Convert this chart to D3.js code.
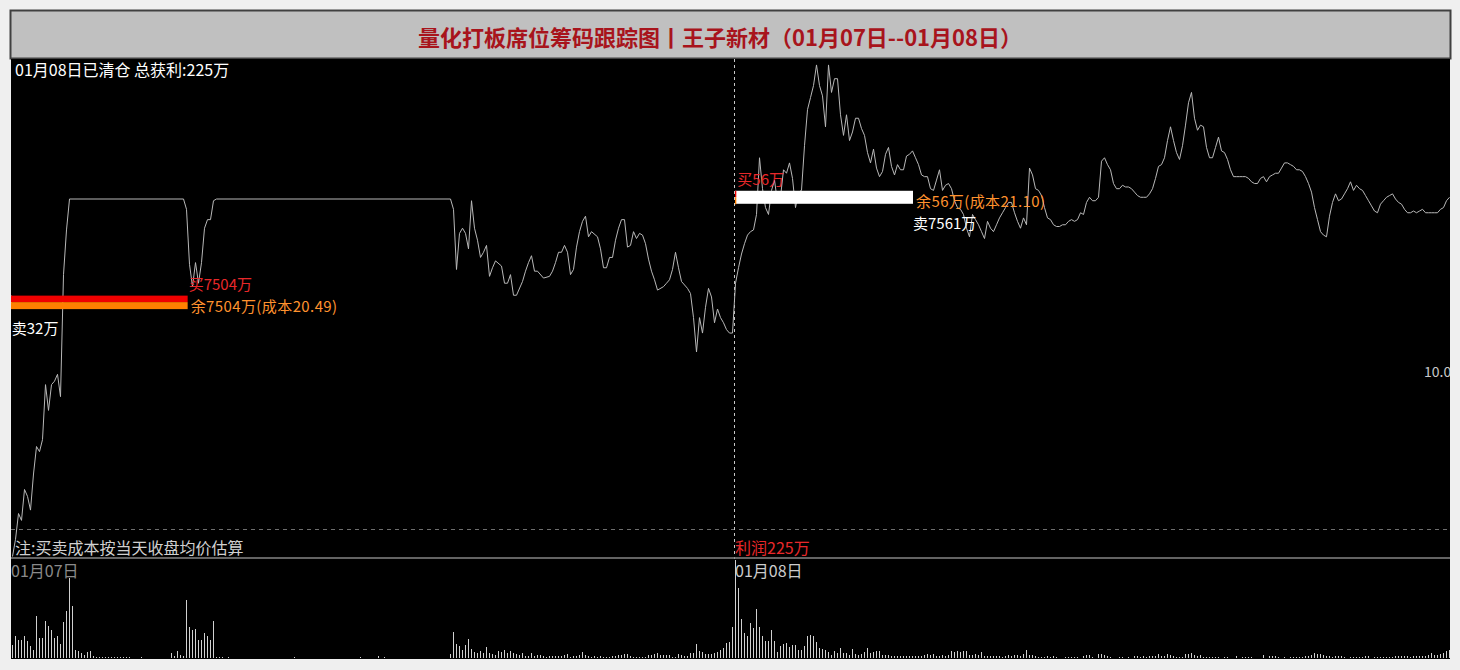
<!DOCTYPE html>
<html>
<head>
<meta charset="utf-8">
<script src="https://cdn.jsdelivr.net/npm/d3@7"></script>
<style>
html, body { margin: 0; padding: 0; background: #efefef; }
svg { display: block; }
text { font-family: "Noto Sans CJK SC", "Noto Sans", sans-serif; }
</style>
</head>
<body>
<svg></svg>
<script>
const titleText = '量化打板席位筹码跟踪图丨王子新材（01月07日--01月08日）';
const summaryText = '01月08日已清仓 总获利:225万';
const noteText = '注:买卖成本按当天收盘均价估算';
const profitText = '利润225万';
const dayLabels = ['01月07日', '01月08日'];
const sideLabel = '10.00';

const prevClose = 19.17;
const limitUp = 21.09;
const minutesPerDay = 241;

// day 1: [minute, price] turning points (flat limit-up stretches in between)
const day1Price = [
    [0, 19.01], [1, 19.11], [2, 19.26], [3, 19.22], [4, 19.40], [5, 19.36], [6, 19.28], [7, 19.49],
    [8, 19.65], [9, 19.62], [10, 19.69], [11, 20.01], [12, 19.86], [13, 20.01], [14, 20.03], [15, 20.07],
    [16, 19.94], [17, 20.65], [18, 20.91], [19, 21.09], [57, 21.09], [58, 21.03], [59, 20.71], [60, 20.58],
    [61, 20.72], [62, 20.60], [63, 20.72], [64, 20.92], [65, 20.97], [66, 20.97], [67, 21.08], [68, 21.09],
    [146, 21.09], [147, 21.03], [148, 20.68], [149, 20.89], [150, 20.92], [151, 20.89], [152, 20.80], [153, 21.08],
    [154, 20.92], [155, 20.85], [156, 20.75], [157, 20.78], [158, 20.82], [159, 20.64], [160, 20.69], [161, 20.73],
    [163, 20.70], [164, 20.60], [165, 20.60], [166, 20.65], [167, 20.53], [168, 20.53], [170, 20.61], [171, 20.67],
    [172, 20.72], [173, 20.76], [174, 20.67], [175, 20.67], [177, 20.63], [179, 20.64], [180, 20.67], [181, 20.72],
    [182, 20.78], [183, 20.78], [184, 20.82], [185, 20.78], [186, 20.65], [187, 20.68], [188, 20.81], [189, 20.90],
    [190, 20.96], [191, 20.99], [192, 20.87], [193, 20.90], [195, 20.87], [196, 20.80], [197, 20.69], [198, 20.69],
    [199, 20.75], [200, 20.75], [201, 20.85], [202, 20.92], [203, 20.97], [204, 20.97], [205, 20.81], [206, 20.82],
    [207, 20.90], [208, 20.86], [209, 20.89], [210, 20.88], [211, 20.83], [212, 20.74], [213, 20.67], [214, 20.62],
    [215, 20.56], [217, 20.58], [218, 20.60], [219, 20.62], [220, 20.68], [221, 20.78], [222, 20.69], [223, 20.61],
    [225, 20.57], [226, 20.54], [227, 20.40], [228, 20.20], [229, 20.40], [230, 20.31], [231, 20.46], [232, 20.57],
    [233, 20.52], [234, 20.37], [235, 20.45], [236, 20.40], [237, 20.37], [238, 20.33], [239, 20.31], [240, 20.31]
];

// day 2: one price per minute
const day2Price = [
    20.60, 20.69, 20.77, 20.83, 20.88, 20.90, 20.91, 21.00, 21.33, 21.15,
    21.04, 21.00, 21.14, 21.20, 21.07, 21.10, 21.26, 21.24, 21.30, 21.21,
    21.04, 21.13, 21.14, 21.40, 21.61, 21.68, 21.75, 21.87, 21.75, 21.69,
    21.51, 21.87, 21.71, 21.79, 21.79, 21.58, 21.46, 21.58, 21.43, 21.48,
    21.56, 21.56, 21.50, 21.46, 21.36, 21.30, 21.38, 21.27, 21.22, 21.25,
    21.35, 21.39, 21.28, 21.23, 21.29, 21.26, 21.26, 21.34, 21.35, 21.37,
    21.33, 21.29, 21.23, 21.22, 21.22, 21.15, 21.14, 21.20, 21.26, 21.14,
    21.17, 21.18, 21.15, 21.08, 21.04, 21.03, 21.00, 20.92, 20.87, 21.00,
    20.97, 20.94, 20.90, 20.86, 20.96, 20.92, 20.90, 20.94, 20.98, 21.01,
    21.04, 21.07, 21.07, 21.01, 20.96, 20.92, 20.98, 20.94, 21.27, 21.23,
    21.15, 21.14, 21.11, 21.04, 20.98, 20.97, 20.94, 20.93, 20.93, 20.94,
    20.94, 20.96, 20.97, 20.96, 20.97, 21.01, 21.00, 21.07, 21.10, 21.08,
    21.08, 21.10, 21.31, 21.33, 21.29, 21.26, 21.18, 21.15, 21.15, 21.17,
    21.16, 21.16, 21.15, 21.13, 21.11, 21.10, 21.10, 21.10, 21.12, 21.15,
    21.21, 21.28, 21.29, 21.33, 21.43, 21.51, 21.43, 21.36, 21.32, 21.40,
    21.52, 21.65, 21.71, 21.56, 21.49, 21.52, 21.51, 21.39, 21.33, 21.33,
    21.39, 21.45, 21.37, 21.36, 21.32, 21.26, 21.22, 21.22, 21.22, 21.22,
    21.22, 21.21, 21.19, 21.18, 21.18, 21.21, 21.22, 21.19, 21.22, 21.23,
    21.24, 21.24, 21.27, 21.30, 21.30, 21.29, 21.28, 21.26, 21.26, 21.25,
    21.22, 21.18, 21.13, 21.04, 20.97, 20.90, 20.88, 20.87, 20.99, 21.07,
    21.12, 21.08, 21.09, 21.12, 21.15, 21.19, 21.14, 21.17, 21.15, 21.14,
    21.11, 21.08, 21.05, 21.02, 21.01, 21.06, 21.08, 21.10, 21.11, 21.12,
    21.09, 21.07, 21.06, 21.03, 21.01, 21.01, 21.02, 21.01, 21.02, 21.03,
    21.01, 21.01, 21.01, 21.01, 21.01, 21.03, 21.04, 21.08, 21.10
];

// per-minute volume (relative units)
const day1Vol = [
    13, 22, 18, 18, 22, 17, 12, 8, 42, 20, 20, 37, 32, 28, 20, 22, 14, 36, 47, 80, 52,
    8, 7, 5, 3, 6, 7, 2,
    1, 1, 1, 1, 1, 1, 1, 1, 1, 1, 1, 1,
    0, 0, 0, 1, 0, 0, 0, 0, 0, 0, 0, 0, 0,
    5, 2, 7, 3, 2,
    58, 31, 28, 29, 18, 18, 25, 22, 18, 37,
    1, 1, 1, 0, 1,
    0, 0, 0, 0, 0, 0, 0, 0, 0, 0, 0, 0, 0, 0, 0, 0, 0, 0, 0, 0, 0,
    1,
    0, 0, 0, 0, 0, 0, 0, 0, 0, 0, 0, 0, 0, 0, 0, 0, 0, 0, 0, 0, 0,
    1, 0, 0, 0, 0, 0, 2, 0, 1,
    0, 0, 0, 0, 0, 0, 0, 0, 0, 0, 0, 0, 0, 0, 0, 0, 0, 0, 0, 0, 0,
    4,
    26, 14, 12, 8, 13, 19, 9, 6, 5, 7,
    5, 11, 5, 4, 3, 7, 6, 8, 5, 7,
    5, 4, 3, 5, 2, 2, 5, 2, 3, 3,
    2, 1, 2, 2, 2, 2, 2, 3, 4, 1,
    2, 2, 3, 6, 3, 2, 1, 2, 1, 2,
    1, 1, 1, 2, 2, 3, 3, 4, 4, 2,
    1, 1, 1, 1, 1, 3, 3, 4, 5, 3,
    3, 3, 3, 1, 1, 4, 3, 2, 2, 5,
    5, 14, 7, 6, 4, 4, 4, 5, 6, 8, 10, 15, 16, 31
];

const day2Vol = [
    98, 70, 39, 25, 22, 35, 30, 49, 31, 22,
    17, 17, 28, 17, 6, 12, 14, 15, 11, 13,
    13, 8, 8, 12, 22, 23, 22, 16, 10, 9,
    8, 6, 3, 7, 5, 10, 5, 5, 3, 9,
    4, 3, 4, 6, 10, 5, 6, 7, 7, 3,
    3, 3, 2, 2, 2, 2, 2, 2, 2, 2,
    2, 2, 2, 3, 4, 3, 4, 2, 2, 3,
    2, 3, 7, 6, 7, 6, 7, 7, 3, 3,
    4, 3, 6, 2, 2, 2, 2, 2, 2, 1,
    2, 3, 2, 3, 3, 2, 4, 8, 3, 3,
    2, 1, 1, 1, 2, 1, 2, 1, 0, 0,
    1, 1, 1, 1, 1, 0, 2, 3, 3, 1,
    0, 4, 4, 3, 2, 1, 0, 0, 1, 1,
    0, 1, 0, 2, 2, 1, 2, 1, 2, 2,
    2, 4, 2, 2, 4, 3, 2, 1, 1, 1,
    4, 4, 5, 3, 2, 3, 1, 1, 1, 1,
    1, 1, 0, 1, 1, 0, 0, 2, 0, 1,
    1, 1, 1, 0, 0, 0, 3, 0, 2, 2,
    2, 1, 0, 1, 0, 1, 1, 1, 1, 1,
    2, 2, 3, 5, 4, 4, 3, 2, 2, 1,
    2, 2, 2, 1, 0, 1, 1, 1, 1, 1,
    2, 2, 0, 1, 1, 1, 1, 1, 1, 1,
    2, 2, 2, 2, 2, 1, 2, 2, 2, 2,
    2, 3, 5, 3, 3, 4, 5, 7, 8
];

// seat trades per day (amounts in 万, cost in 元)
const tradeDays = [0, 1];
const tradeCost = [20.49, 21.10];
const tradeBuy = [7504, 56];
const tradeRemain = [7504, 56];
const tradeSell = [32, 7561];

const W = 1460, H = 670;
const frame = { left: 11, right: 1450, top: 10, titleBottom: 59, priceBottom: 557, volTop: 559, bottom: 659 };

const svg = d3.select('svg')
    .attr('width', W)
    .attr('height', H);

// title bar
svg.append('rect')
    .attr('x', frame.left - 0.5)
    .attr('y', frame.top + 0.5)
    .attr('width', frame.right - frame.left + 1)
    .attr('height', frame.titleBottom - frame.top - 1)
    .attr('fill', '#c0c0c0')
    .attr('stroke', '#404040')
    .attr('stroke-width', 2);

svg.append('text')
    .attr('x', 720)
    .attr('y', (frame.top + frame.titleBottom) / 2 + 1)
    .attr('text-anchor', 'middle')
    .attr('dominant-baseline', 'central')
    .attr('fill', '#a8141c')
    .attr('font-size', '22px')
    .attr('font-weight', 'bold')
    .text(titleText);

// black plot area
svg.append('rect')
    .attr('x', frame.left)
    .attr('y', frame.titleBottom)
    .attr('width', frame.right - frame.left)
    .attr('height', frame.bottom - frame.titleBottom)
    .attr('fill', '#000');

svg.append('clipPath').attr('id', 'plotClip')
    .append('rect')
    .attr('x', frame.left)
    .attr('y', frame.titleBottom)
    .attr('width', frame.right - frame.left)
    .attr('height', frame.bottom - frame.titleBottom);

const plot = svg.append('g').attr('clip-path', 'url(#plotClip)');

const x = d3.scaleLinear()
    .domain([0, 2 * minutesPerDay - 2])
    .range([12, 1452]);

const y = d3.scaleLinear()
    .domain([prevClose, limitUp])
    .range([529, 199]);

const allVol = day1Vol.concat(day2Vol);
const vy = d3.scaleLinear()
    .domain([0, d3.max(allVol)])
    .range([frame.bottom - 1, frame.volTop + 1]);

const amount = d3.scaleLinear()
    .domain([0, d3.max(tradeSell)])
    .range([0, 178]);

const priceSeries = day1Price.map(d => ({ g: d[0], p: d[1] }))
    .concat(day2Price.map((p, n) => ({ g: minutesPerDay + n, p: p })));

const volSeries = allVol.map((v, g) => ({ g: g, v: v })).filter(d => d.v > 0);

// previous close dashed line
plot.append('line')
    .attr('x1', frame.left)
    .attr('x2', frame.right)
    .attr('y1', Math.round(y(prevClose)) + 0.5)
    .attr('y2', Math.round(y(prevClose)) + 0.5)
    .attr('stroke', '#6e6e6e')
    .attr('stroke-dasharray', '4,4');

// day separator
const dayX = Math.round(x(minutesPerDay)) - 0.5;
plot.append('line')
    .attr('x1', dayX)
    .attr('x2', dayX)
    .attr('y1', frame.titleBottom)
    .attr('y2', frame.volTop)
    .attr('stroke', '#c8c8c8')
    .attr('stroke-dasharray', '3,3');

// pane separator
plot.append('line')
    .attr('x1', frame.left)
    .attr('x2', frame.right)
    .attr('y1', frame.priceBottom + 1)
    .attr('y2', frame.priceBottom + 1)
    .attr('stroke', '#858585')
    .attr('stroke-width', 1.5);

// price line
svg.append('clipPath').attr('id', 'priceClip')
    .append('rect')
    .attr('x', frame.left)
    .attr('y', frame.titleBottom)
    .attr('width', frame.right - frame.left)
    .attr('height', frame.priceBottom - frame.titleBottom + 1);

const line = d3.line()
    .x(d => x(d.g) + 0.5)
    .y(d => y(d.p));

plot.append('g').attr('clip-path', 'url(#priceClip)')
    .append('path')
    .datum(priceSeries)
    .attr('fill', 'none')
    .attr('stroke', '#b8b8b8')
    .attr('stroke-width', 1)
    .attr('d', line);

// volume bars
plot.selectAll('.vol')
    .data(volSeries)
    .enter().append('line')
    .attr('class', 'vol')
    .attr('x1', d => Math.round(x(d.g)) + 0.5)
    .attr('x2', d => Math.round(x(d.g)) + 0.5)
    .attr('y1', vy(0))
    .attr('y2', d => vy(d.v))
    .attr('stroke', '#d0d0d0')
    .attr('stroke-width', 1);

// trade bars and labels
const trades = tradeDays.map((day, i) => ({
    bx: x(day * minutesPerDay) - (day === 0 ? 1 : 0),
    yc: y(tradeCost[i]),
    cost: tradeCost[i],
    buy: tradeBuy[i],
    remain: tradeRemain[i],
    sell: tradeSell[i]
}));

const tg = plot.append('g').attr('font-size', '15px').attr('dominant-baseline', 'central');
trades.forEach(t => {
    const wSell = amount(t.sell);
    const wBuy = Math.max(1, amount(t.buy));
    const wRemain = Math.max(1, amount(t.remain));
    const wMax = Math.max(wSell, wBuy, wRemain);

    tg.append('rect')
        .attr('x', t.bx).attr('y', t.yc - 6.5)
        .attr('width', wSell).attr('height', 13)
        .attr('fill', '#ffffff');
    tg.append('rect')
        .attr('x', t.bx).attr('y', t.yc - 6.5)
        .attr('width', wBuy).attr('height', 6.5)
        .attr('fill', '#f00000');
    tg.append('rect')
        .attr('x', t.bx).attr('y', t.yc)
        .attr('width', wRemain).attr('height', 7)
        .attr('fill', '#ff8000');

    tg.append('text')
        .attr('x', t.bx + wBuy + 1)
        .attr('y', t.yc - 19)
        .attr('fill', '#e8282a')
        .text(`买${t.buy}万`);
    tg.append('text')
        .attr('x', t.bx + wMax + 3)
        .attr('y', t.yc + 3)
        .attr('fill', '#ff922e')
        .attr('letter-spacing', '0.4px')
        .text(`余${t.remain}万(成本${t.cost.toFixed(2)})`);
    tg.append('text')
        .attr('x', t.bx + wSell)
        .attr('y', t.yc + 25)
        .attr('fill', '#ffffff')
        .text(`卖${t.sell}万`);
});

// texts
const texts = plot.append('g').attr('font-size', '16px').attr('dominant-baseline', 'central');

texts.append('text')
    .attr('x', frame.left + 4)
    .attr('y', frame.titleBottom + 10)
    .attr('fill', '#ffffff')
    .text(summaryText);

texts.append('text')
    .attr('x', frame.left + 4)
    .attr('y', frame.priceBottom - 10)
    .attr('fill', '#d0d0d0')
    .text(noteText);

texts.append('text')
    .attr('x', x(minutesPerDay))
    .attr('y', frame.priceBottom - 10)
    .attr('fill', '#e8282a')
    .text(profitText);

texts.selectAll('.day')
    .data(dayLabels)
    .enter().append('text')
    .attr('class', 'day')
    .attr('x', (d, i) => x(i * minutesPerDay) - (i === 0 ? 1 : 0))
    .attr('y', frame.volTop + 11)
    .attr('fill', (d, i) => i === 0 ? '#8a8a8a' : '#cccccc')
    .text(d => d);

texts.append('text')
    .attr('x', frame.right - 26)
    .attr('y', 371)
    .attr('fill', '#c8c8c8')
    .attr('font-size', '14px')
    .text(sideLabel);
</script>
</body>
</html>
